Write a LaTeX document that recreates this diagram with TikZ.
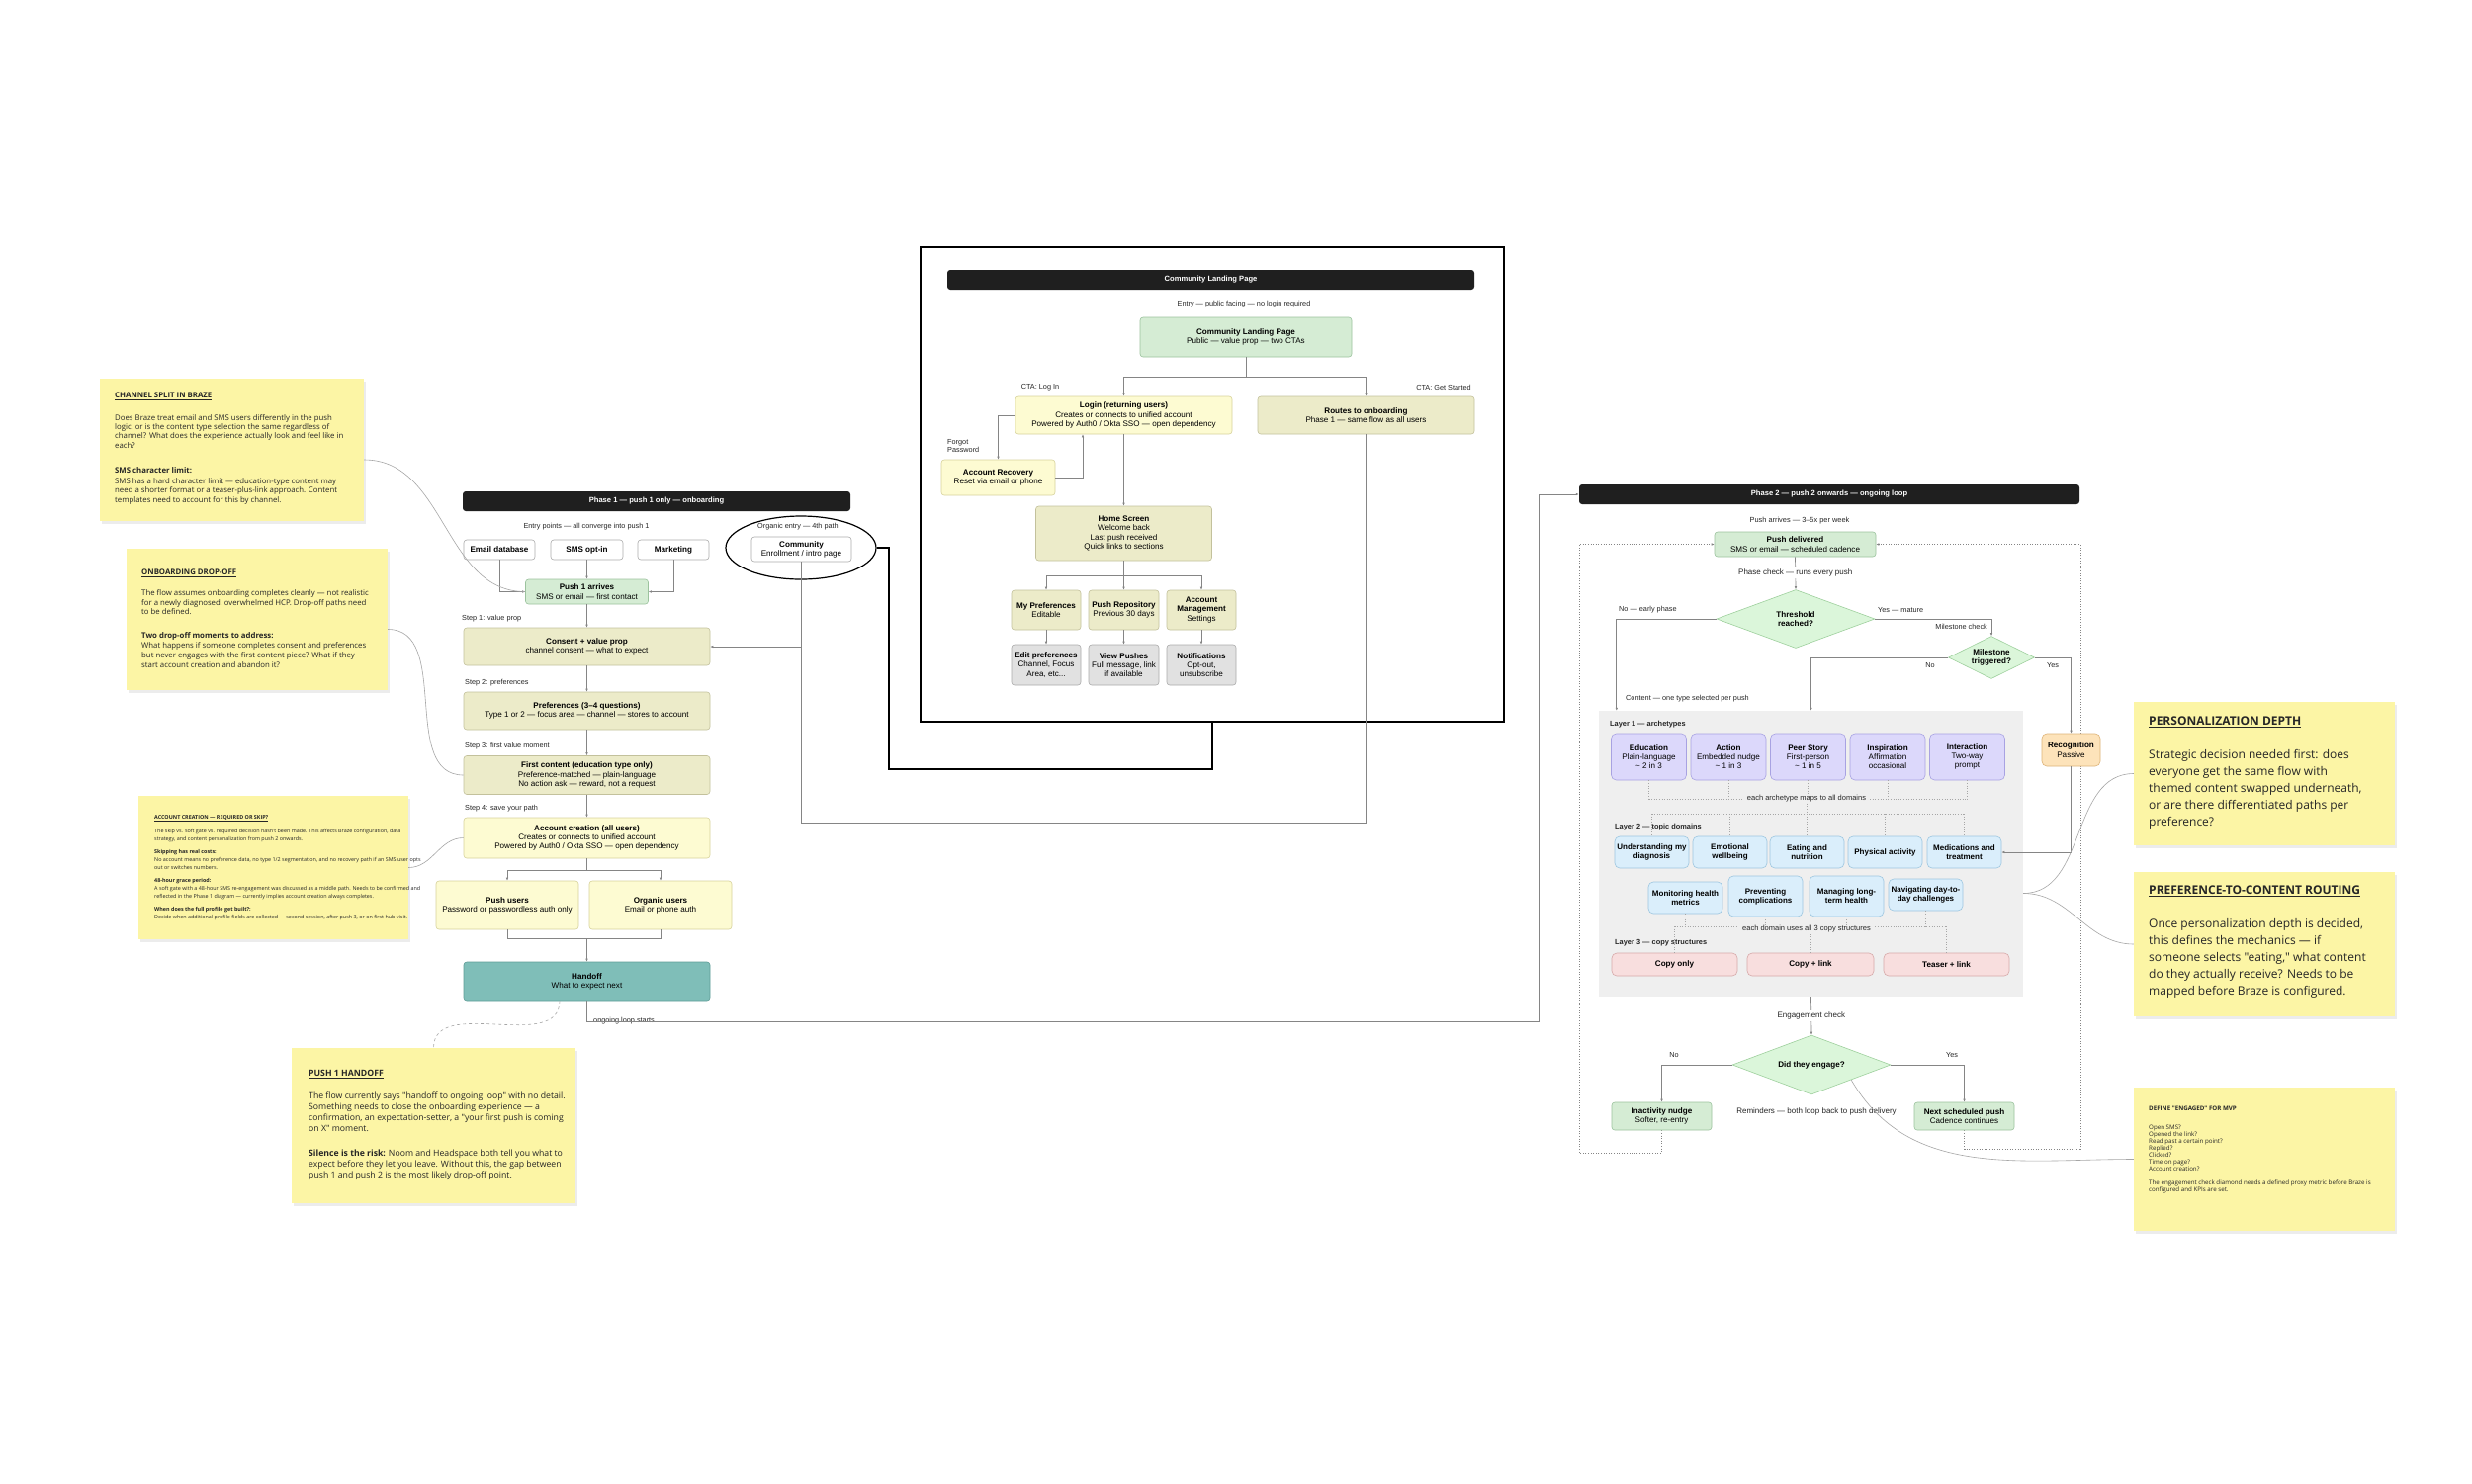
\documentclass[tikz,border=0pt]{standalone}
\usepackage{fontspec}
\setmainfont{Liberation Sans}
\newfontfamily\notefont{Open Sans}
\usetikzlibrary{arrows.meta, shapes.geometric, shadows, calc}

\pgfdeclarelayer{background}
\pgfsetlayers{background,main}

% box colours
\definecolor{greenfill}{HTML}{D5ECD4}
\definecolor{greenline}{HTML}{9CC39E}
\definecolor{khakifill}{HTML}{ECEBC9}
\definecolor{khakiline}{HTML}{C3C19C}
\definecolor{yellowfill}{HTML}{FDFBD2}
\definecolor{yellowline}{HTML}{D8D39C}
\definecolor{greyfill}{HTML}{E1E1E1}
\definecolor{greyline}{HTML}{ABABAB}
\definecolor{tealfill}{HTML}{7FBEB8}
\definecolor{tealline}{HTML}{5E9C96}
\definecolor{lavfill}{HTML}{DCD8FB}
\definecolor{lavline}{HTML}{A8A2E2}
\definecolor{bluefill}{HTML}{DAEEFB}
\definecolor{blueline}{HTML}{9DC6E0}
\definecolor{pinkfill}{HTML}{F8DEDE}
\definecolor{pinkline}{HTML}{D6A9A9}
\definecolor{orangefill}{HTML}{FDE3BA}
\definecolor{orangeline}{HTML}{DDB378}
\definecolor{decfill}{HTML}{DBF6DA}
\definecolor{decline}{HTML}{9ED09D}
\definecolor{layerfill}{HTML}{EFEFEF}
\definecolor{notefill}{HTML}{FCF5A5}
\definecolor{wire}{HTML}{858585}

\tikzset{
  dims/.style 2 args={minimum width=#1pt, minimum height=#2pt},
  flow/.style={rounded corners=3pt, line width=0.6pt, align=center, inner sep=1pt,
    font=\fontsize{8.1}{9.2}\selectfont},
  greenbox/.style={flow, draw=greenline, fill=greenfill},
  khakibox/.style={flow, draw=khakiline, fill=khakifill},
  yellowbox/.style={flow, draw=yellowline, fill=yellowfill},
  greybox/.style={flow, draw=greyline, fill=greyfill},
  whitebox/.style={flow, draw=greyline, fill=white},
  tealbox/.style={flow, draw=tealline, fill=tealfill},
  lavbox/.style={flow, draw=lavline, fill=lavfill, rounded corners=5pt},
  bluebox/.style={flow, draw=blueline, fill=bluefill, rounded corners=5pt,
    font=\fontsize{8}{9}\selectfont\bfseries},
  pinkbox/.style={flow, draw=pinkline, fill=pinkfill, rounded corners=5pt,
    font=\fontsize{8.1}{9.2}\selectfont\bfseries},
  orangebox/.style={flow, draw=orangeline, fill=orangefill, rounded corners=5pt},
  decision/.style={diamond, draw=decline, fill=decfill, line width=0.6pt, align=center,
    inner sep=0pt, font=\fontsize{8.1}{9.2}\selectfont\bfseries},
  hdr/.style={rounded corners=3pt, fill=black!88, text=white, inner sep=0pt,
    font=\fontsize{7.6}{9}\selectfont\bfseries},
  lbl/.style={inner sep=0pt, text=black!85, font=\fontsize{7.3}{8.4}\selectfont},
  edgelbl/.style={lbl, fill=white, inner ysep=2pt, font=\fontsize{8}{9.2}\selectfont},
  layerlbl/.style={lbl, anchor=west, font=\fontsize{7.4}{8.6}\selectfont\bfseries},
  maplabel/.style={lbl, fill=layerfill, inner xsep=4pt, inner ysep=1pt,
    font=\fontsize{7.5}{8.6}\selectfont},
  conn/.style={draw=wire, line width=0.7pt},
  arr/.style={conn, -{Latex[length=3pt, width=2.6pt]}},
  loopline/.style={draw=wire, line width=0.7pt, dash pattern=on 1pt off 1.6pt,
    -{Latex[length=3pt, width=2.6pt]}},
  mapline/.style={draw=black!35, line width=0.6pt, dash pattern=on 1pt off 1.6pt},
  note/.style={fill=notefill, inner sep=0pt,
    drop shadow={opacity=0.15, shadow xshift=1.5pt, shadow yshift=-2.5pt}},
  notetext/.style={anchor=north west, align=left, inner sep=0pt, text=black!85},
  notelink/.style={draw=black!35, line width=0.6pt},
}

\begin{document}
\begin{tikzpicture}[x=1pt, y=-1pt]
    \begin{pgfonlayer}{background}
        \fill[white] (0,0) rectangle (2500,1500);
    \end{pgfonlayer}
    \useasboundingbox (0,0) rectangle (2500,1500);
    %
    % Community landing page panel
    \node[draw, line width=1.6pt, dims={590}{480}, inner sep=0pt] (clpframe) at (1226,490) {};
    \node[hdr, dims={533}{20}] (clphdr) at (1224.5,283) {Community Landing Page};
    \node[lbl] (clpentry) at (1258,308) {Entry — public facing — no login required};
    \node[greenbox, dims={214}{40}] (clp) at (1260,341) {\textbf{Community Landing Page}\\Public — value prop — two CTAs};
    \node[lbl] (ctalogin) at (1052,392) {CTA: Log In};
    \node[lbl] (ctastart) at (1460,392) {CTA: Get Started};
    \node[yellowbox, dims={219}{38}] (login) at (1136.5,420) {\textbf{Login (returning users)}\\Creates or connects to unified account\\Powered by Auth0 / Okta SSO — open dependency};
    \node[khakibox, dims={219}{38}] (routes) at (1381.5,420) {\textbf{Routes to onboarding}\\Phase 1 — same flow as all users};
    \node[lbl, align=left, anchor=west] (forgot) at (958,451) {Forgot\\Password};
    \node[yellowbox, dims={115}{36}] (recov) at (1009.5,483) {\textbf{Account Recovery}\\Reset via email or phone};
    \node[khakibox, dims={178}{55}] (home) at (1136.5,539.5) {\textbf{Home Screen}\\Welcome back\\Last push received\\Quick links to sections};
    \node[khakibox, dims={70}{40}] (mypref) at (1058,617) {\textbf{My Preferences}\\Editable};
    \node[khakibox, dims={71}{40}] (pushrepo) at (1136.5,617) {\textbf{Push Repository}\\Previous 30 days};
    \node[khakibox, dims={70}{40}] (acctmgmt) at (1215,617) {\textbf{Account}\\\textbf{Management}\\Settings};
    \node[greybox, dims={70}{41}] (editpref) at (1058,672.5) {\textbf{Edit preferences}\\Channel, Focus\\Area, etc...};
    \node[greybox, dims={71}{41}] (viewpush) at (1136.5,672.5) {\textbf{View Pushes}\\Full message, link\\if available};
    \node[greybox, dims={70}{41}] (notif) at (1215,672.5) {\textbf{Notifications}\\Opt-out,\\unsubscribe};
    % Draw the landing page connectors
    \draw[conn] (clp.south) -- ++(0,20) coordinate (clpfork);
    \draw[arr] (clpfork) -| (login.north);
    \draw[arr] (clpfork) -| (routes.north);
    \draw[arr] (login.west) -| (recov.north);
    \draw[arr] (recov.east) -| ([xshift=-41.5pt]login.south);
    \draw[arr] (login.south) -- (home.north);
    \draw[conn] (home.south) -- ++(0,15) coordinate (homefork);
    \foreach \n in {mypref,pushrepo,acctmgmt}
        \draw[arr] (homefork) -| (\n.north);
    \draw[arr] (mypref.south) -- (editpref.north);
    \draw[arr] (pushrepo.south) -- (viewpush.north);
    \draw[arr] (acctmgmt.south) -- (notif.north);
    %
    % Phase 1 -- onboarding column
    \node[hdr, dims={392}{20}] (p1hdr) at (664,507) {Phase 1 — push 1 only — onboarding};
    \node[lbl] (entrylbl) at (593,533) {Entry points — all converge into push 1};
    \node[lbl] (organiclbl) at (807,533) {Organic entry — 4th path};
    \node[ellipse, draw, line width=1.2pt, dims={152}{64}, inner sep=0pt] (orgring) at (810,554) {};
    \node[whitebox, dims={101}{25}] (community) at (810.5,555.5) {\textbf{Community}\\Enrollment / intro page};
    \node[whitebox, dims={72}{20}, font=\fontsize{8.1}{9.2}\selectfont\bfseries] (emaildb) at (505,556) {Email database};
    \node[whitebox, dims={73}{20}, font=\fontsize{8.1}{9.2}\selectfont\bfseries] (smsopt) at (593.5,556) {SMS opt-in};
    \node[whitebox, dims={72}{20}, font=\fontsize{8.1}{9.2}\selectfont\bfseries] (mkting) at (681,556) {Marketing};
    \node[greenbox, dims={124}{25}] (push1) at (593.5,598.5) {\textbf{Push 1 arrives}\\SMS or email — first contact};
    \node[lbl, anchor=west] (step1) at (467,626) {Step 1: value prop};
    \node[khakibox, dims={249}{38}] (consent) at (593.5,654) {\textbf{Consent + value prop}\\channel consent — what to expect};
    \node[lbl, anchor=west] (step2) at (470,691) {Step 2: preferences};
    \node[khakibox, dims={249}{38}] (prefs) at (593.5,719) {\textbf{Preferences (3–4 questions)}\\Type 1 or 2 — focus area — channel — stores to account};
    \node[lbl, anchor=west] (step3) at (470,755) {Step 3: first value moment};
    \node[khakibox, dims={249}{39}] (first) at (593.5,784) {\textbf{First content (education type only)}\\Preference-matched — plain-language\\No action ask — reward, not a request};
    \node[lbl, anchor=west] (step4) at (470,818) {Step 4: save your path};
    \node[yellowbox, dims={249}{41}] (acct) at (593.5,847.5) {\textbf{Account creation (all users)}\\Creates or connects to unified account\\Powered by Auth0 / Okta SSO — open dependency};
    \node[yellowbox, dims={144}{49}] (pushusers) at (513,915.5) {\textbf{Push users}\\Password or passwordless auth only};
    \node[yellowbox, dims={144}{49}] (orgusers) at (668,915.5) {\textbf{Organic users}\\Email or phone auth};
    \node[tealbox, dims={249}{39}] (handoff) at (593.5,992.5) {\textbf{Handoff}\\What to expect next};
    \node[lbl, anchor=base west] (looplbl) at (600,1034) {ongoing loop starts};
    % Draw the onboarding connectors
    \draw[arr] (emaildb.south) |- (push1.west);
    \draw[arr] (smsopt.south) -- (push1.north);
    \draw[arr] (mkting.south) |- (push1.east);
    \draw[arr] (push1.south) -- (consent.north);
    \draw[arr] (consent.south) -- (prefs.north);
    \draw[arr] (prefs.south) -- (first.north);
    \draw[arr] (first.south) -- (acct.north);
    \draw[conn] (acct.south) -- ++(0,12) coordinate (acctfork);
    \draw[arr] (acctfork) -| (pushusers.north);
    \draw[arr] (acctfork) -| (orgusers.north);
    \coordinate (acctmerge) at (593.5,949);
    \draw[conn] (pushusers.south) |- (acctmerge) -| (orgusers.south);
    \draw[arr] (acctmerge) -- (handoff.north);
    % Organic entry and the Get Started route both join at consent
    \draw[arr] (community.south) |- (consent.east);
    \coordinate (routesbend) at (810.5,832);
    \draw[conn] (routes.south) |- (routesbend) -- (community.south |- consent.east);
    \coordinate (ringbend) at (899,778);
    \draw[line width=1.5pt] (clpframe.south) |- (ringbend) |- (orgring.east);
    %
    % Phase 2 -- ongoing loop
    \node[hdr, dims={506}{20}] (p2hdr) at (1850,500) {Phase 2 — push 2 onwards — ongoing loop};
    \coordinate (loopcorner) at (1556,1033);
    \draw[arr] (handoff.south) |- (loopcorner) |- (p2hdr.west);
    \node[lbl, font=\fontsize{7.4}{8.6}\selectfont] (pusharr) at (1820,527) {Push arrives — 3–5x per week};
    \node[greenbox, dims={163}{25}] (pushdel) at (1815.5,550.5) {\textbf{Push delivered}\\SMS or email — scheduled cadence};
    \node[decision, dims={160}{59}, aspect=2.7] (thresh) at (1816,626) {Threshold\\reached?};
    \node[lbl, anchor=west] (nolbl1) at (1637,617) {No — early phase};
    \node[lbl, anchor=west] (yeslbl1) at (1899,617) {Yes — mature};
    \node[lbl, anchor=east] (milechk) at (2010,634) {Milestone check};
    \node[decision, dims={87}{43}, aspect=2] (mile) at (2014,665) {Milestone\\triggered?};
    \node[lbl] (nolbl2) at (1952,673) {No};
    \node[lbl] (yeslbl2) at (2076,673) {Yes};
    \node[lbl, anchor=west] (contentlbl) at (1644,707) {Content — one type selected per push};
    \node[orangebox, dims={59}{33}] (recog) at (2094.5,758.5) {\textbf{Recognition}\\Passive};
    % Draw the three content layers
    \node[fill=layerfill, dims={429}{289}, inner sep=0pt] (layers) at (1831.5,863.5) {};
    \node[layerlbl] (layer1) at (1628,733) {Layer 1 — archetypes};
    \node[lavbox, dims={76}{47}] (edu) at (1667.5,765.5) {\textbf{Education}\\Plain-language\\\textasciitilde{} 2 in 3};
    \node[lavbox, dims={76}{47}] (act) at (1748,765.5) {\textbf{Action}\\Embedded nudge\\\textasciitilde{} 1 in 3};
    \node[lavbox, dims={76}{47}] (peer) at (1828.5,765.5) {\textbf{Peer Story}\\First-person\\\textasciitilde{} 1 in 5};
    \node[lavbox, dims={76}{47}] (insp) at (1909,765.5) {\textbf{Inspiration}\\Affirmation\\occasional};
    \node[lavbox, dims={76}{47}] (inter) at (1989.5,765.5) {\textbf{Interaction}\\Two-way\\prompt};
    \node[layerlbl] (layer2) at (1633,837) {Layer 2 — topic domains};
    \node[bluebox, dims={75}{32}] (diag) at (1670.5,862) {Understanding my\\diagnosis};
    \node[bluebox, dims={75}{32}] (emo) at (1749.5,862) {Emotional\\wellbeing};
    \node[bluebox, dims={75}{32}] (eat) at (1827.5,862) {Eating and\\nutrition};
    \node[bluebox, dims={75}{32}] (phys) at (1906.5,862) {Physical activity};
    \node[bluebox, dims={75}{32}] (medic) at (1986.5,862) {Medications and\\treatment};
    \node[bluebox, dims={75}{32}] (monit) at (1704.5,908) {Monitoring health\\metrics};
    \node[bluebox, dims={75}{41}] (prevent) at (1785.5,906.5) {Preventing\\complications};
    \node[bluebox, dims={75}{41}] (manage) at (1867.5,906.5) {Managing long-\\term health};
    \node[bluebox, dims={75}{32}] (navig) at (1947.5,905) {Navigating day-to-\\day challenges};
    \node[layerlbl] (layer3) at (1633,954) {Layer 3 — copy structures};
    \node[pinkbox, dims={127}{23}] (copyonly) at (1693.5,975.5) {Copy only};
    \node[pinkbox, dims={128}{23}] (copylink) at (1831,975.5) {Copy + link};
    \node[pinkbox, dims={127}{23}] (teaser) at (1968.5,975.5) {Teaser + link};
    % Dotted mapping between the layers
    \coordinate (archbus) at (0,808);
    \coordinate (dombus) at (0,823);
    \coordinate (copybus) at (0,937);
    \foreach \n in {edu,act,peer,insp,inter}
        \draw[mapline] (\n.south) -- (\n.south |- archbus);
    \draw[mapline] (edu.south |- archbus) -- (inter.south |- archbus);
    \node[maplabel] (archmap) at (1827,808) {each archetype maps to all domains};
    \draw[mapline] (archmap.south) -- (archmap.south |- dombus);
    \draw[mapline] (diag.north |- dombus) -- (medic.north |- dombus);
    \foreach \n in {diag,emo,eat,phys,medic}
        \draw[mapline] (\n.north |- dombus) -- (\n.north);
    \foreach \n in {monit,prevent,manage,navig}
        \draw[mapline] (\n.south) -- (\n.south |- copybus);
    \draw[mapline] (copyonly.north |- copybus) -- (teaser.north |- copybus);
    \foreach \n in {copyonly,copylink,teaser}
        \draw[mapline] (\n.north |- copybus) -- (\n.north);
    \node[maplabel] (copymap) at (1827,940) {each domain uses all 3 copy structures};
    % Engagement check and the two reminders
    \node[decision, dims={160}{60}, aspect=2.67] (engage) at (1832,1077) {Did they engage?};
    \node[lbl] (nolbl3) at (1693,1067) {No};
    \node[lbl] (yeslbl3) at (1974,1067) {Yes};
    \node[greenbox, dims={101}{28}] (nudge) at (1680.5,1129) {\textbf{Inactivity nudge}\\Softer, re-entry};
    \node[greenbox, dims={101}{28}] (nextpush) at (1986.5,1129) {\textbf{Next scheduled push}\\Cadence continues};
    \node[lbl, font=\fontsize{8}{9.2}\selectfont] (reminders) at (1837,1124) {Reminders — both loop back to push delivery};
    % Draw the loop connectors
    \draw[arr] (pushdel.south) -- node[edgelbl] (phasechk) {Phase check — runs every push} (thresh.north);
    \draw[arr] (thresh.west) -| ([xshift=18pt]layers.north west);
    \draw[arr] (thresh.east) -| (mile.north);
    \draw[arr] (mile.west) -| (layers.north);
    \draw[arr] (mile.east) -| (recog.north);
    \draw[arr] (recog.south) |- (medic.east);
    \draw[arr] (layers.south) -- node[edgelbl] (engchk) {Engagement check} (engage.north);
    \draw[arr] (engage.west) -| (nudge.north);
    \draw[arr] (engage.east) -| (nextpush.north);
    \begin{pgfonlayer}{background}
        \coordinate (loopL) at (1597,1166);
        \coordinate (loopR) at (2104,1162);
        \draw[loopline] (nudge.south) |- (loopL) |- (pushdel.west);
        \draw[loopline] (nextpush.south) |- (loopR) |- (pushdel.east);
    \end{pgfonlayer}
    %
    % Sticky notes
    \node[note, dims={267}{144}] (note1) at (234.5,455) {};
    \node[notetext, font=\notefont\fontsize{7.8}{9.3}\selectfont] (note1txt) at (116,397) {\textbf{\underline{CHANNEL SPLIT IN BRAZE}}\\[13pt]
        Does Braze treat email and SMS users differently in the push\\
        logic, or is the content type selection the same regardless of\\
        channel? What does the experience actually look and feel like in\\
        each?\\[16pt]
        \textbf{SMS character limit:}\\[2pt]
        SMS has a hard character limit — education-type content may\\
        need a shorter format or a teaser-plus-link approach. Content\\
        templates need to account for this by channel.};
    \node[note, dims={264}{143}] (note2) at (260,626.5) {};
    \node[notetext, font=\notefont\fontsize{7.8}{9.6}\selectfont] (note2txt) at (143,576) {\textbf{\underline{ONBOARDING DROP-OFF}}\\[11pt]
        The flow assumes onboarding completes cleanly — not realistic\\
        for a newly diagnosed, overwhelmed HCP. Drop-off paths need\\
        to be defined.\\[14pt]
        \textbf{Two drop-off moments to address:}\\[1pt]
        What happens if someone completes consent and preferences\\
        but never engages with the first content piece? What if they\\
        start account creation and abandon it?};
    \node[note, dims={273}{145}] (note3) at (276.5,877.5) {};
    \node[notetext, font=\notefont\fontsize{5.4}{8}\selectfont] (note3txt) at (156,824) {\textbf{\underline{ACCOUNT CREATION — REQUIRED OR SKIP?}}\\[6pt]
        The skip vs. soft gate vs. required decision hasn't been made. This affects Braze configuration, data\\
        strategy, and content personalization from push 2 onwards.\\[5pt]
        \textbf{Skipping has real costs:}\\
        No account means no preference data, no type 1/2 segmentation, and no recovery path if an SMS user opts\\
        out or switches numbers.\\[5pt]
        \textbf{48-hour grace period:}\\
        A soft gate with a 48-hour SMS re-engagement was discussed as a middle path. Needs to be confirmed and\\
        reflected in the Phase 1 diagram — currently implies account creation always completes.\\[5pt]
        \textbf{When does the full profile get built?:}\\
        Decide when additional profile fields are collected — second session, after push 3, or on first hub visit.};
    \node[note, dims={287}{157}] (note4) at (438.5,1138.5) {};
    \node[notetext, font=\notefont\fontsize{8.7}{11}\selectfont] (note4txt) at (312,1082) {\textbf{\underline{PUSH 1 HANDOFF}}\\[12pt]
        The flow currently says "handoff to ongoing loop" with no detail.\\
        Something needs to close the onboarding experience — a\\
        confirmation, an expectation-setter, a "your first push is coming\\
        on X" moment.\\[14pt]
        \textbf{Silence is the risk:} Noom and Headspace both tell you what to\\
        expect before they let you leave. Without this, the gap between\\
        push 1 and push 2 is the most likely drop-off point.};
    \node[note, dims={264}{145}] (note5) at (2290,782.5) {};
    \node[notetext, font=\notefont\fontsize{12}{17}\selectfont] (note5txt) at (2173,725) {\textbf{\underline{PERSONALIZATION DEPTH}}\\[16.5pt]
        Strategic decision needed first: does\\
        everyone get the same flow with\\
        themed content swapped underneath,\\
        or are there differentiated paths per\\
        preference?};
    \node[note, dims={264}{146}] (note6) at (2290,955) {};
    \node[notetext, font=\notefont\fontsize{12}{17}\selectfont] (note6txt) at (2173,896) {\textbf{\underline{PREFERENCE-TO-CONTENT ROUTING}}\\[16.5pt]
        Once personalization depth is decided,\\
        this defines the mechanics — if\\
        someone selects "eating," what content\\
        do they actually receive? Needs to be\\
        mapped before Braze is configured.};
    \node[note, dims={264}{145}] (note7) at (2290,1172.5) {};
    \node[notetext, font=\notefont\fontsize{6.2}{7}\selectfont] (note7txt) at (2173,1119) {\textbf{DEFINE "ENGAGED" FOR MVP}\\[12pt]
        Open SMS?\\
        Opened the link?\\
        Read past a certain point?\\
        Replied?\\
        Clicked?\\
        Time on page?\\
        Account creation?\\[7pt]
        The engagement check diamond needs a defined proxy metric before Braze is\\
        configured and KPIs are set.};
    % Draw the note links
    \draw[notelink] ([yshift=-10pt]note1.east) to[out=0, in=180] (push1.west);
    \draw[notelink] ([yshift=-10pt]note2.east) to[out=0, in=180] (first.west);
    \draw[notelink] (note3.east) to[out=0, in=180] (acct.west);
    \draw[notelink, dashed] ([xshift=-27.5pt]handoff.south) to[out=-90, in=90] (note4.north);
    \draw[notelink] (note5.west) to[out=180, in=0] ([yshift=-40pt]layers.east);
    \draw[notelink] (note6.west) to[out=180, in=0] ([yshift=-40pt]layers.east);
    \draw[notelink] (note7.west) to[out=180, in=-60] (engage.south east);
\end{tikzpicture}
\end{document}
